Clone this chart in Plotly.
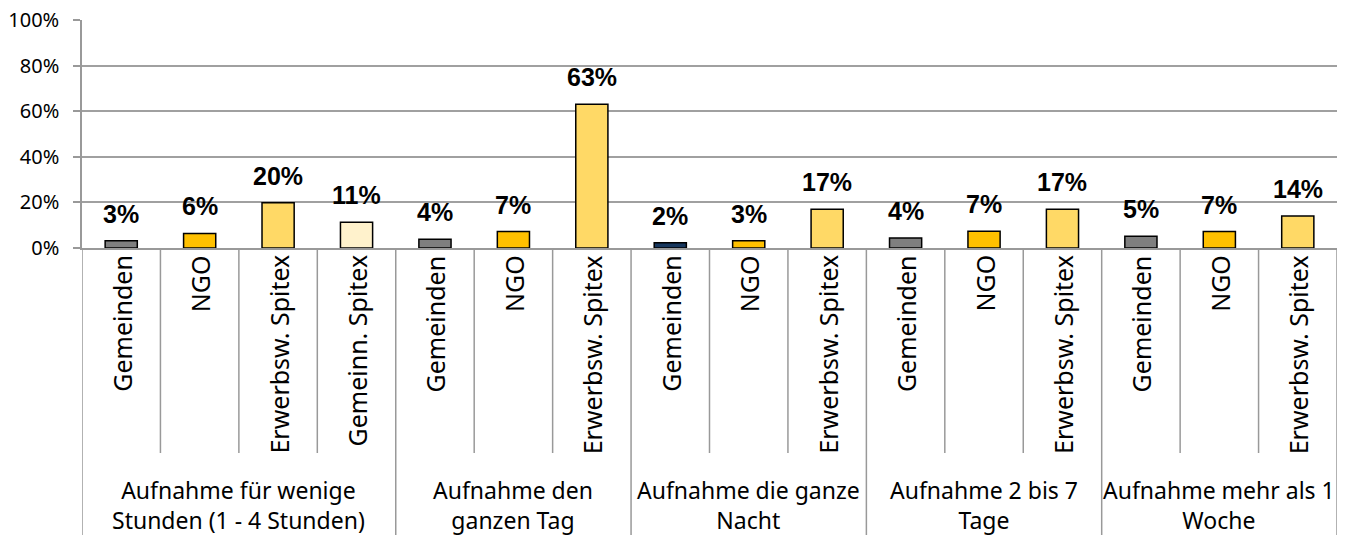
import plotly.graph_objects as go

groups = [
    "Aufnahme für wenige<br>Stunden (1 - 4 Stunden)",
    "Aufnahme den<br>ganzen Tag",
    "Aufnahme die ganze<br>Nacht",
    "Aufnahme 2 bis 7<br>Tage",
    "Aufnahme mehr als 1<br>Woche",
]
providers = [
    ["Gemeinden", "NGO", "Erwerbsw. Spitex", "Gemeinn. Spitex"],
    ["Gemeinden", "NGO", "Erwerbsw. Spitex"],
    ["Gemeinden", "NGO", "Erwerbsw. Spitex"],
    ["Gemeinden", "NGO", "Erwerbsw. Spitex"],
    ["Gemeinden", "NGO", "Erwerbsw. Spitex"],
]
values = [
    [0.032, 0.064, 0.199, 0.113],
    [0.038, 0.072, 0.63],
    [0.023, 0.032, 0.17],
    [0.044, 0.074, 0.17],
    [0.051, 0.072, 0.14],
]
colors = {
    "Gemeinden": "#7f7f7f",
    "NGO": "#ffc000",
    "Erwerbsw. Spitex": "#ffd966",
    "Gemeinn. Spitex": "#fff2cc",
}
night_color = "#17375e"

tick_font = dict(family="Noto Sans, DejaVu Sans, sans-serif", size=20, color="#000000")
sub_font = dict(family="Noto Sans, DejaVu Sans, sans-serif", size=25, color="#000000")
group_font = dict(family="Noto Sans, DejaVu Sans, sans-serif", size=23, color="#000000")
label_font = dict(family="Liberation Sans, Arial, sans-serif", size=25, color="#000000")

# flatten
xs, ys, cols, subs = [], [], [], []
i = 0
for g, (plist, vlist) in enumerate(zip(providers, values)):
    for p, v in zip(plist, vlist):
        xs.append(i)
        ys.append(v)
        c = colors[p]
        if g == 2 and p == "Gemeinden":
            c = night_color
        cols.append(c)
        subs.append(p)
        i += 1
n = len(xs)

fig = go.Figure(go.Bar(
    x=xs, y=ys,
    marker=dict(color=cols, line=dict(color="#000000", width=1.5)),
    width=0.41,
    hoverinfo="skip",
))

# plot area geometry (paper units below the axis)
plot_h = 535 - 20 - 287
def below(px):
    return -px / plot_h

annotations = []
for x, y in zip(xs, ys):
    annotations.append(dict(
        x=x, y=y, xref="x", yref="y", text=f"<b>{round(y * 100)}%</b>",
        showarrow=False, yanchor="bottom", yshift=11, font=label_font,
    ))

shapes = []
for x, s in zip(xs, subs):
    annotations.append(dict(
        x=x, y=below(5), xref="x", yref="paper", text=s, textangle=-90,
        showarrow=False, yanchor="top", xanchor="center", font=sub_font,
    ))

start = 0
line_col = "#999999"
for g, plist in enumerate(providers):
    end = start + len(plist)
    annotations.append(dict(
        x=(start + end - 1) / 2, y=below(224), xref="x", yref="paper",
        text=groups[g], showarrow=False, yanchor="top", font=group_font,
    ))
    for k in range(start + 1, end):
        shapes.append(dict(type="line", xref="x", yref="paper",
                           x0=k - 0.5, x1=k - 0.5, y0=0, y1=below(205),
                           line=dict(color=line_col, width=1.5)))
    start = end

for b in [0] + [sum(len(p) for p in providers[:g + 1]) for g in range(len(providers))]:
    shapes.append(dict(type="line", xref="x", yref="paper",
                       x0=b - 0.5, x1=b - 0.5, y0=0, y1=below(300),
                       line=dict(color=line_col, width=1.5)))

fig.update_layout(
    width=1347, height=535,
    margin=dict(l=82, r=10, t=20, b=287),
    paper_bgcolor="white", plot_bgcolor="white",
    showlegend=False,
    annotations=annotations,
    shapes=shapes,
    xaxis=dict(range=[-0.5, n - 0.5], showticklabels=False, showgrid=False,
               zeroline=False, showline=True, linecolor=line_col, linewidth=1.5,
               ticks="", automargin=False, fixedrange=True),
    yaxis=dict(range=[0, 1], dtick=0.2, tickformat=".0%", tickfont=tick_font,
               showgrid=True, gridcolor="#a0a0a0", gridwidth=1.5,
               zeroline=False, showline=True, linecolor=line_col, linewidth=1.5,
               ticks="outside", ticklen=7, tickcolor=line_col, tickwidth=1.5,
               ticklabelstandoff=10, automargin=False, fixedrange=True),
)

fig.write_html("out.html", config={"displayModeBar": False},
               post_script="document.body.style.margin='0';")
